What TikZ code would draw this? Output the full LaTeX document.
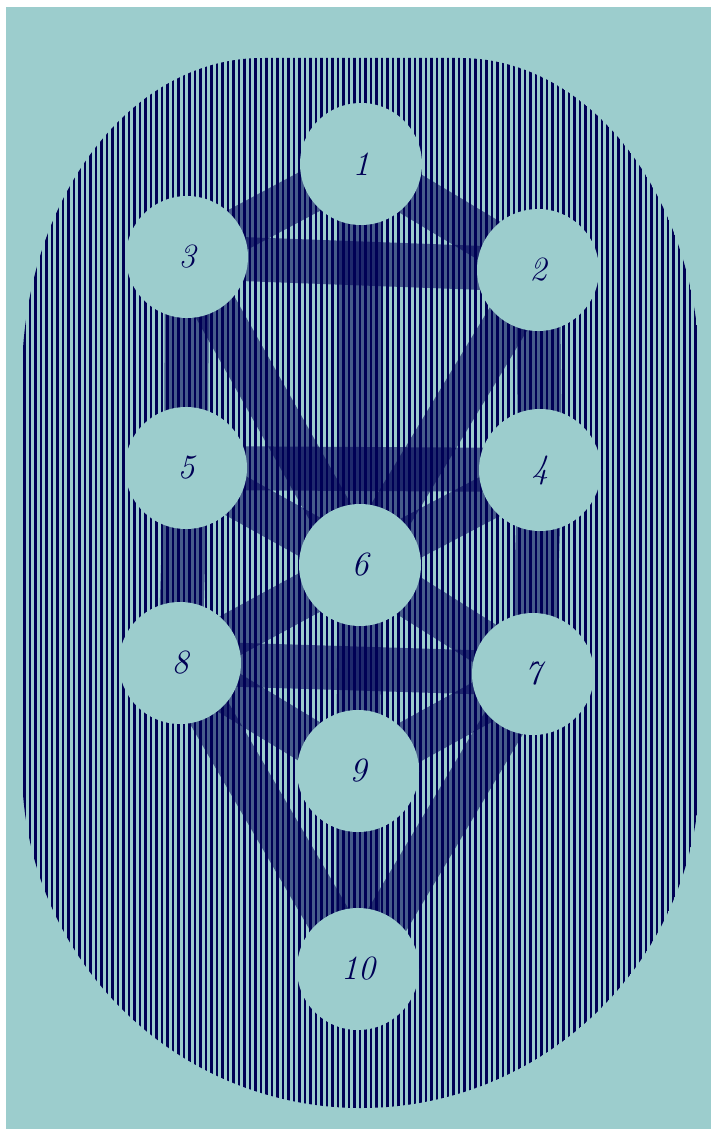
\documentclass[tikz,border=0pt]{standalone}
\definecolor{teal0}{RGB}{156,205,205}
\definecolor{navy0}{RGB}{0,0,85}
\pgfdeclarelayer{bg}
\pgfdeclarelayer{bands}
\pgfsetlayers{bg,bands,main}
\tikzset{
  sephira/.style={circle, fill=teal0, minimum size=122pt, inner sep=0pt, text=navy0,
    font=\fontsize{34}{34}\selectfont\itshape},
  band/.style={draw=navy0, line width=44pt, draw opacity=0.55, line cap=butt},
  hatch/.style={draw=navy0, line width=2.4pt}
}
\def\stadium{(22,378) -- (22,768) arc[start angle=180,end angle=0,x radius=339,y radius=340] -- (700,378) arc[start angle=0,end angle=-90,x radius=240,y radius=320] -- (262,58) arc[start angle=-90,end angle=-180,x radius=240,y radius=320] -- cycle}
\begin{document}
\begin{tikzpicture}[x=1pt,y=-1pt]
\useasboundingbox (0,0) rectangle (711,1129);
\begin{pgfonlayer}{bg}
  \fill[white] (0,0) rectangle (711,1129);
  \fill[teal0] (6,7) rectangle (711,1129);
  \begin{scope}
    \clip \stadium;
    \foreach \x in {24.5,30,...,700} \draw[hatch] (\x,50) -- (\x,1115);
  \end{scope}
\end{pgfonlayer}
\node[sephira] (s1) at (361,164) {1};
\node[sephira] (s2) at (538,270) {2};
\node[sephira] (s3) at (187,257) {3};
\node[sephira] (s4) at (540,470) {4};
\node[sephira] (s5) at (186,468) {5};
\node[sephira] (s6) at (360,565) {6};
\node[sephira] (s7) at (533,674) {7};
\node[sephira] (s8) at (180,663) {8};
\node[sephira] (s9) at (358,771) {9};
\node[sephira] (s10) at (358,969) {10};
\begin{pgfonlayer}{bands}
  \foreach \a/\b in {1/2,1/3,2/3,1/6,2/4,3/5,2/6,3/6,4/5,4/6,5/6,4/7,5/8,6/7,6/8,6/9,7/8,7/9,8/9,7/10,8/10,9/10}
    \draw[band] (s\a.center) -- (s\b.center);
\end{pgfonlayer}
\end{tikzpicture}
\end{document}
